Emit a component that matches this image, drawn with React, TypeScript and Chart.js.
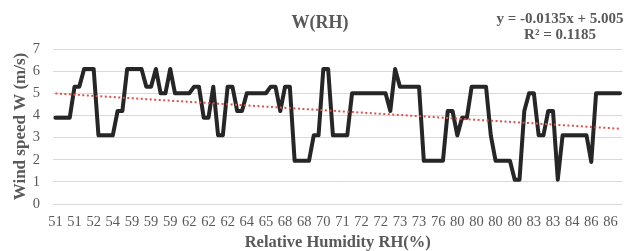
import React, { useEffect, useRef } from "react";
import { Chart, registerables } from "chart.js";

Chart.register(...registerables);

// Tick labels shown on the category axis (every 4th category is labelled)
const tickLabels = [
  "51", "51", "52", "54", "59", "59", "59", "62", "62", "62",
  "64", "65", "68", "68", "70", "71", "72", "72", "73", "73",
  "76", "80", "80", "80", "80", "83", "83", "84", "86", "86",
];
const labelEvery = 4;

// Wind speed W (m/s), one value per observation, sorted by RH
const windSpeed = [
  3.9, 3.9, 3.9, 3.9, 5.3, 5.3, 6.1, 6.1, 6.1, 3.1,
  3.1, 3.1, 3.1, 4.2, 4.2, 6.1, 6.1, 6.1, 6.1, 5.3,
  5.3, 6.1, 5.0, 5.0, 6.1, 5.0, 5.0, 5.0, 5.0, 5.3,
  5.3, 3.9, 3.9, 5.3, 3.1, 3.1, 5.3, 5.3, 4.2, 4.2,
  5.0, 5.0, 5.0, 5.0, 5.0, 5.3, 5.3, 4.2, 5.3, 5.3,
  1.95, 1.95, 1.95, 1.95, 3.1, 3.1, 6.1, 6.1, 3.1, 3.1,
  3.1, 3.1, 5.0, 5.0, 5.0, 5.0, 5.0, 5.0, 5.0, 5.0,
  4.2, 6.1, 5.3, 5.3, 5.3, 5.3, 5.3, 1.95, 1.95, 1.95,
  1.95, 1.95, 4.2, 4.2, 3.1, 3.9, 3.9, 5.3, 5.3, 5.3,
  5.3, 3.1, 1.95, 1.95, 1.95, 1.95, 1.1, 1.1, 4.2, 5.0,
  5.0, 3.1, 3.1, 4.2, 4.2, 1.1, 3.1, 3.1, 3.1, 3.1,
  3.1, 3.1, 1.9, 5.0, 5.0, 5.0, 5.0, 5.0, 5.0,
];

// Linear trendline shown on the chart
const trendSlope = -0.0135;
const trendIntercept = 5.005;
const rSquared = 0.1185;

const chartTitle = "W(RH)";
const xAxisTitle = "Relative Humidity RH(%)";
const yAxisTitle = "Wind speed W (m/s)";

const yMin = 0;
const yMax = 7;

const TEXT = "#595959";
const FONT = '"Liberation Serif", "Times New Roman", serif';

const textPlugin = {
  id: "customTexts",
  afterDraw(chart: any) {
    const ctx = chart.ctx;
    ctx.save();
    ctx.fillStyle = TEXT;
    ctx.textAlign = "center";
    ctx.textBaseline = "alphabetic";
    ctx.font = `bold 18px ${FONT}`;
    ctx.fillText(chartTitle, 320, 28);
    ctx.font = `bold 15px ${FONT}`;
    ctx.fillText(`y = ${trendSlope}x + ${trendIntercept}`, 560, 23);
    ctx.fillText(`R² = ${rSquared}`, 560, 39);
    ctx.restore();
  },
};

export default function App() {
  const canvasRef = useRef<HTMLCanvasElement | null>(null);

  useEffect(() => {
    const canvas = canvasRef.current;
    if (!canvas) return;

    const labels = windSpeed.map((_, i) =>
      i % labelEvery === 0 ? tickLabels[i / labelEvery] ?? "" : ""
    );
    const trend = windSpeed.map((_, i) => trendIntercept + trendSlope * (i + 1));

    const chart = new Chart(canvas, {
      type: "line",
      data: {
        labels,
        datasets: [
          {
            label: "Linear trend",
            data: trend,
            borderColor: "#d9534f",
            borderWidth: 2,
            borderDash: [2, 2.5],
            pointRadius: 0,
            fill: false,
            tension: 0,
            order: 0,
          },
          {
            label: "W",
            data: windSpeed,
            borderColor: "#262626",
            borderWidth: 4,
            borderJoinStyle: "round",
            borderCapStyle: "round",
            pointRadius: 0,
            fill: false,
            tension: 0,
            order: 1,
          },
        ],
      },
      options: {
        responsive: false,
        animation: false,
        devicePixelRatio: 1,
        layout: { padding: { left: 0, right: 1, top: 49, bottom: 0 } },
        plugins: {
          legend: { display: false },
          title: { display: false },
          tooltip: { enabled: false },
        },
        scales: {
          x: {
            type: "category",
            offset: true,
            grid: { display: false, drawTicks: false },
            border: { display: false },
            ticks: {
              autoSkip: false,
              maxRotation: 0,
              minRotation: 0,
              padding: 9,
              color: TEXT,
              font: { family: FONT, size: 14.5 },
            },
            title: {
              display: true,
              text: xAxisTitle,
              color: TEXT,
              font: { family: FONT, size: 16.5, weight: "bold", lineHeight: 1 },
              padding: { top: 0, bottom: 0 },
            },
            afterFit(scale: any) {
              scale.height = 47;
            },
          },
          y: {
            min: yMin,
            max: yMax,
            grid: { color: "#d9d9d9", lineWidth: 1, drawTicks: false },
            border: { display: false },
            ticks: {
              stepSize: 1,
              padding: 13,
              color: TEXT,
              font: { family: FONT, size: 14.5 },
            },
            title: {
              display: true,
              text: yAxisTitle,
              color: TEXT,
              font: { family: FONT, size: 17, weight: "bold" },
              padding: { top: 10, bottom: 0 },
            },
            afterFit(scale: any) {
              scale.width = 53;
            },
          },
        },
      },
      plugins: [textPlugin],
    });

    return () => chart.destroy();
  }, []);

  return (
    <div style={{ position: "fixed", left: 0, top: 0, width: 629, height: 251, background: "#fff" }}>
      <canvas ref={canvasRef} width={629} height={251} style={{ display: "block", width: 629, height: 251 }} />
    </div>
  );
}
